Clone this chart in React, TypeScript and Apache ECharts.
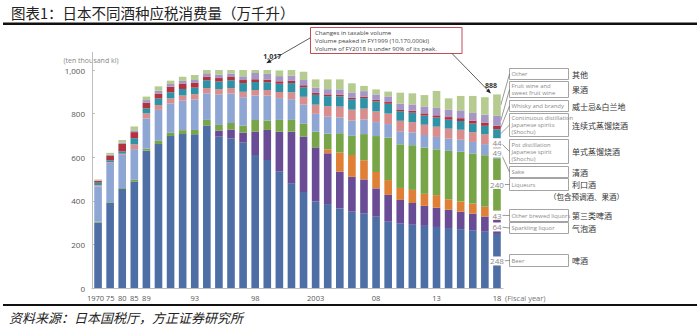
import React, { useEffect, useRef } from 'react';
import * as echarts from 'echarts';

// ---------------- data (ten thousand kl) ----------------
const years = ['1970','1975','1980','1985','1989','1990','1991','1992','1993','1994','1995','1996','1997','1998','1999','2000','2001','2002','2003','2004','2005','2006','2007','2008','2009','2010','2011','2012','2013','2014','2015','2016','2017','2018'];
const xTickLabels = ['1970','75','80','85','89','','','','93','','','','','98','','','','','2003','','','','','08','','','','','13','','','','','18'];
const yTicks = [0, 200, 400, 600, 800, 1000];

const beer =        [300,391,454,488,630,660,697,706,705,745,694,685,667,610,587,534,480,440,396,385,365,350,343,327,304,297,290,285,280,275,270,265,258,248];
const sparkling =   [0,0,0,0,0,0,0,0,0,0,28,42,46,107,138,183,237,255,249,233,169,160,155,130,123,107,100,92,88,84,80,76,70,64];
const otherBrewed = [0,0,0,0,0,0,0,0,0,0,0,0,0,0,0,0,0,0,0,18,88,100,88,75,68,55,60,55,58,48,47,46,45,43];
const liqueurs =    [4,3,4,8,10,15,15,18,20,26,26,30,32,54,43,54,54,58,72,72,88,88,120,165,195,200,205,212,210,222,228,230,236,240];
const sake =        [162,180,153,141,138,142,135,135,140,122,140,135,130,112,115,100,95,88,82,78,72,70,67,64,62,60,59,58,57,56,55,53,51,49];
const potShochu =   [5,4,5,22,23,22,23,24,24,24,24,25,25,25,25,28,32,36,42,48,50,50,50,49,48,48,47,47,47,46,46,45,45,44];
const contShochu =  [12,8,10,28,23,30,28,30,30,36,35,36,40,37,36,38,42,44,45,46,47,48,48,46,45,44,43,42,42,41,40,39,39,40];
const whisky =      [8,22,35,28,26,23,25,25,22,17,16,15,14,13,12,11,10,9,9,8,8,7,7,7,8,8,9,10,10,12,13,14,15,16];
const fruitWine =   [2,3,5,8,12,13,13,12,13,15,15,16,17,28,26,24,24,24,24,24,24,24,25,25,26,27,29,32,34,35,36,35,36,46];
const otherLiquor = [5,9,13,18,16,20,15,19,23,23,25,28,32,26,35,26,31,38,38,45,46,42,24,23,22,50,51,52,78,51,66,78,80,98];

const seriesNames = ['Beer','Sparkling liquor','Other brewed liquors','Liqueurs','Sake','Pot distillation Japanese spirit (Shochu)','Continuous distillation Japanese spirits (Shochu)','Whisky and brandy','Fruit wine and sweet fruit wine','Other'];
const seriesData = [beer, sparkling, otherBrewed, liqueurs, sake, potShochu, contShochu, whisky, fruitWine, otherLiquor];
const seriesColors = ['#4d6fa5','#6a4b96','#e07f36','#77a548','#8ea6d4','#d98d8d','#2f92a6','#b0333f','#a596c5','#b5cb90'];
const lastLabelled = [true, true, true, true, true, true, false, false, false, false];
const peakLabel = '1,017';
const lastTotalLabel = '888';

// annotation legend (right side)
const legendBoxes = [
  { s: 9, lines: ['Other'], zh: '其他', y: 68, h: 11 },
  { s: 8, lines: ['Fruit wine and', 'sweet fruit wine'], zh: '果酒', y: 81, h: 16 },
  { s: 7, lines: ['Whisky and brandy'], zh: '威士忌&白兰地', y: 100, h: 11 },
  { s: 6, lines: ['Continuous distillation', 'Japanese spirits', '(Shochu)'], zh: '连续式蒸馏烧酒', y: 113, h: 23 },
  { s: 5, lines: ['Pot distillation', 'Japanese spirit', '(Shochu)'], zh: '单式蒸馏烧酒', y: 139, h: 24 },
  { s: 4, lines: ['Sake'], zh: '清酒', y: 166, h: 11 },
  { s: 3, lines: ['Liqueurs'], zh: '利口酒', y: 178, h: 12 },
  { s: 2, lines: ['Other brewed liquors'], zh: '第三类啤酒', y: 209, h: 12 },
  { s: 1, lines: ['Sparkling liquor'], zh: '气泡酒', y: 222, h: 11 },
  { s: 0, lines: ['Beer'], zh: '啤酒', y: 254, h: 12 },
];

const FONT = "'Open Sans', 'Noto Sans', sans-serif";
const CJK = "'Noto Sans CJK SC', sans-serif";

export default function App() {
  const ref = useRef<HTMLDivElement>(null);
  useEffect(() => {
    if (!ref.current) return;
    const chart = echarts.init(ref.current, undefined, { renderer: 'svg' });
    const last = years.length - 1;
    const peakIdx = years.indexOf('1999');

    const series = seriesData.map((arr, si) => ({
      name: seriesNames[si],
      type: 'bar',
      stack: 'total',
      barWidth: '63%',
      itemStyle: { color: seriesColors[si] },
      emphasis: { disabled: true },
      data: arr.map((v, i) => {
        if (i === last && lastLabelled[si]) {
          return {
            value: v,
            label: {
              show: true, position: 'inside', formatter: String(v),
              color: '#8a8a8a', fontSize: 8, fontFamily: FONT,
              backgroundColor: '#fff', padding: [0, 1, 0, 1], lineHeight: 9,
            },
          };
        }
        if (si === seriesData.length - 1 && (i === peakIdx || i === last)) {
          return {
            value: v,
            label: {
              show: true, position: 'top', distance: i === last ? 5 : 10,
              offset: i === last ? [-6, 0] : [5, 0],
              formatter: i === last ? lastTotalLabel : peakLabel,
              color: '#333', fontSize: 7, fontWeight: 'bold', fontFamily: FONT,
            },
          };
        }
        return v;
      }),
    }));

    chart.setOption({
      animation: false,
      backgroundColor: '#fff',
      grid: { left: 92, right: 197, top: 70, bottom: 40 },
      xAxis: {
        type: 'category',
        data: years,
        axisLine: { lineStyle: { color: '#bdbdbd', width: 1 } },
        axisTick: { show: false },
        axisLabel: {
          interval: 0, color: '#555', fontSize: 7.5, fontFamily: FONT, margin: 6,
          formatter: (_v: string, i: number) => (i === 0 ? '{f|' + xTickLabels[i] + '}' : xTickLabels[i]),
          rich: { f: { fontSize: 7.5, color: '#555', fontFamily: FONT, padding: [0, 5, 0, 0] } },
        },
      },
      yAxis: {
        type: 'value',
        min: yTicks[0], max: yTicks[yTicks.length - 1], interval: 200,
        axisLine: { show: true, lineStyle: { color: '#bdbdbd', width: 1 } },
        axisTick: { show: true, inside: true, length: 3, lineStyle: { color: '#bdbdbd' } },
        splitLine: { show: false },
        axisLabel: {
          color: '#555', fontSize: 8, fontFamily: FONT, margin: 7,
          formatter: (v: number) => v.toLocaleString('en-US'),
        },
      },
      series,
    });

    // ---------- annotations computed from the chart's own scales ----------
    const px = (i: number, v: number) => chart.convertToPixel({ gridIndex: 0 }, [i, v]) as number[];
    const cum: number[] = [];
    let acc = 0;
    seriesData.forEach((arr) => { cum.push(acc + arr[last] / 2); acc += arr[last]; });
    const barHalf = 12.1 * 0.63 / 2;

    const g: any[] = [];
    // title + rules
    g.push({ type: 'text', x: 11, y: 12, style: { text: '图表1：日本不同酒种应税消费量（万千升）', fill: '#222', fontSize: 14.5, fontFamily: CJK, verticalAlign: 'middle' } });
    g.push({ type: 'rect', shape: { x: 3, y: 22.5, width: 694, height: 2.5 }, style: { fill: '#111' } });
    g.push({ type: 'rect', shape: { x: 3, y: 304, width: 694, height: 2 }, style: { fill: '#111' } });
    g.push({ type: 'text', x: 9, y: 317, style: { text: '资料来源：日本国税厅，方正证券研究所', fill: '#222', fontSize: 13, fontStyle: 'italic', fontFamily: CJK, verticalAlign: 'middle' } });
    // axis name & fiscal year
    g.push({ type: 'text', x: 91, y: 60, style: { text: '(ten thousand kl)', fill: '#888', fontSize: 7, fontFamily: FONT, align: 'center', verticalAlign: 'middle' } });
    g.push({ type: 'text', x: 505, y: 298, style: { text: '(Fiscal year)', fill: '#777', fontSize: 7.5, fontFamily: FONT, verticalAlign: 'middle' } });

    // callout box
    g.push({ type: 'rect', shape: { x: 310.5, y: 27.5, width: 151.5, height: 26 }, style: { fill: '#fff', stroke: '#c24d58', lineWidth: 1 } });
    const callout = ['Changes in taxable volume', 'Volume peaked in FY1999 (10,170,000kl)', 'Volume of FY2018 is under 90% of its peak.'];
    callout.forEach((t, k) => {
      g.push({ type: 'text', x: 315, y: 32.3 + k * 8.2, style: { text: t, fill: '#444', fontSize: 6.1, fontFamily: FONT, verticalAlign: 'middle' } });
    });

    const arrow = (x1: number, y1: number, x2: number, y2: number) => {
      const dx = x2 - x1, dy = y2 - y1; const L = Math.hypot(dx, dy);
      const ux = dx / L, uy = dy / L; const hl = 5, hw = 2;
      const bx = x2 - ux * hl, by = y2 - uy * hl;
      g.push({ type: 'line', shape: { x1, y1, x2: bx, y2: by }, style: { stroke: '#333', lineWidth: 0.8 } });
      g.push({ type: 'polygon', shape: { points: [[x2, y2], [bx - uy * hw, by + ux * hw], [bx + uy * hw, by - ux * hw]] }, style: { fill: '#222' } });
    };
    const peakTop = px(peakIdx, seriesData.reduce((s, a) => s + a[peakIdx], 0));
    const lastTop = px(last, acc);
    arrow(310, 38, peakTop[0] - 1, peakTop[1] - 3);
    arrow(452, 53.5, lastTop[0] - 6, lastTop[1] - 1);

    // legend boxes with leaders
    legendBoxes.forEach((b) => {
      const cy = b.y + 0.5 + b.h / 2;
      g.push({ type: 'rect', shape: { x: 509.5, y: b.y + 0.5, width: 59, height: b.h }, style: { fill: '#fff', stroke: '#9a9a9a', lineWidth: 0.9 } });
      const n = b.lines.length;
      b.lines.forEach((t, k) => {
        g.push({ type: 'text', x: 511.5, y: cy + (k - (n - 1) / 2) * 7, style: { text: t, fill: '#8a8a8a', fontSize: 5.9, fontFamily: FONT, verticalAlign: 'middle' } });
      });
      g.push({ type: 'text', x: 572, y: cy, style: { text: b.zh, fill: '#333', fontSize: 8, fontFamily: CJK, verticalAlign: 'middle' } });
      const p = px(last, cum[b.s]);
      g.push({ type: 'line', shape: { x1: p[0] + barHalf, y1: p[1], x2: 509.5, y2: cy }, style: { stroke: '#555', lineWidth: 0.6 } });
    });
    g.push({ type: 'text', x: 549, y: 196, style: { text: '（包含预调酒、果酒）', fill: '#333', fontSize: 7.5, fontFamily: CJK, verticalAlign: 'middle' } });
    // axis line extension above the plot
    g.push({ type: 'line', shape: { x1: 92.5, y1: 52, x2: 92.5, y2: 70 }, style: { stroke: '#bdbdbd', lineWidth: 1 } });

    chart.setOption({ graphic: g });
    return () => chart.dispose();
  }, []);
  return <div ref={ref} style={{ position: 'absolute', left: 0, top: 0, width: 700, height: 328, background: '#fff' }} />;
}
